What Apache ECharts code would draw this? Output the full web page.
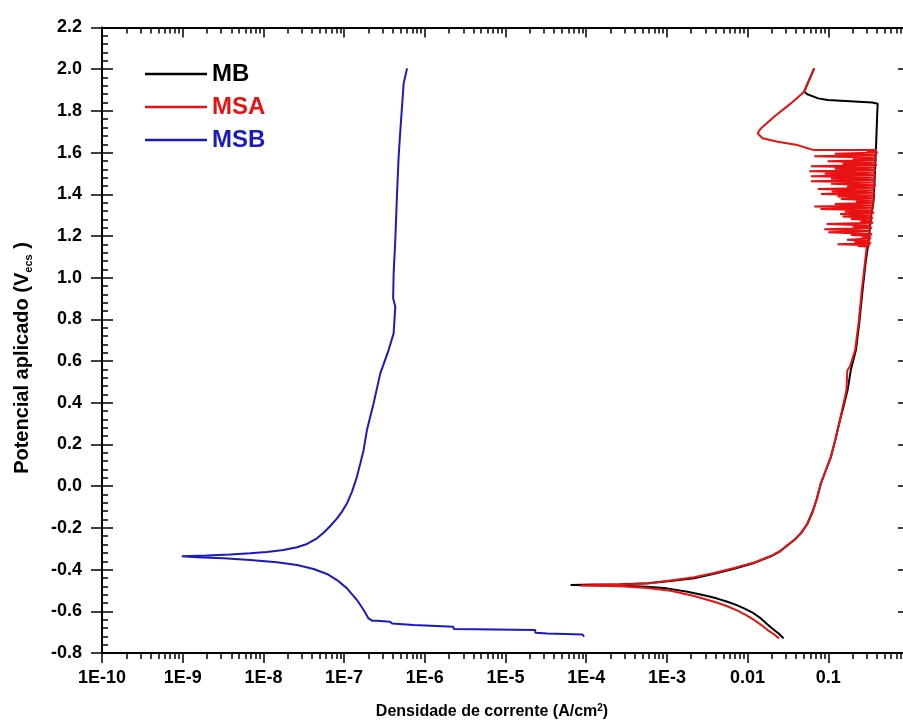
<!DOCTYPE html>
<html><head><meta charset="utf-8">
<script src="https://cdn.jsdelivr.net/npm/echarts@6/dist/echarts.min.js"></script>
<style>html,body{margin:0;padding:0;background:#fff;overflow:hidden}#c{width:910px;height:722px}</style>
</head><body><div id="c"></div>
<script>
// ---- data ----
const seriesNames = ['MB', 'MSA', 'MSB'];
const seriesColors = ['#000000', '#e81212', '#1a1ac4'];

const xTickValues = [1e-10, 1e-9, 1e-8, 1e-7, 1e-6, 1e-5, 1e-4, 1e-3, 0.01, 0.1];
const xTickLabels = ['1E-10','1E-9','1E-8','1E-7','1E-6','1E-5','1E-4','1E-3','0.01','0.1'];
const xMinorMultipliers = [2,3,4,5,6,7,8,9];
const xDecades = [-10,-9,-8,-7,-6,-5,-4,-3,-2,-1];

// MB: [current density (A/cm2), potential (V)]
const mbData = [
 [0.0279,-0.730],[0.0245,-0.708],[0.0213,-0.690],[0.0178,-0.664],[0.0146,-0.634],[0.0115,-0.606],[0.00905,-0.586],
 [0.0072,-0.569],[0.00562,-0.554],[0.0042,-0.539],[0.00318,-0.527],[0.0018,-0.506],[0.0010,-0.490],
 [5.73e-4,-0.482],[2.67e-4,-0.477],[1.25e-4,-0.475],[6.4e-5,-0.474],
 [1.25e-4,-0.472],[2.67e-4,-0.470],[5.73e-4,-0.466],[0.00111,-0.455],[0.00217,-0.441],[0.00385,-0.420],
 [0.0068,-0.396],[0.0121,-0.368],[0.0194,-0.336],[0.0253,-0.312],[0.0313,-0.283],[0.0385,-0.256],[0.0457,-0.226],
 [0.055,-0.180],[0.064,-0.120],[0.072,-0.060],[0.081,0.014],[0.094,0.080],[0.1077,0.141],[0.122,0.222],
 [0.1365,0.302],[0.155,0.385],[0.1735,0.461],[0.19,0.557],[0.22,0.653],[0.2416,0.781],
 [0.266,0.941],[0.293,1.085],[0.31,1.15],[0.34,1.30],[0.365,1.373],[0.389,1.612],[0.405,1.80],
 [0.41,1.834],[0.35,1.840],[0.098,1.852],[0.075,1.86],[0.055,1.88],[0.0502,1.892],[0.0668,2.004]
];

// MSA: [current density (A/cm2), potential (V)]
const msaData = [
 [0.0246,-0.730],[0.0212,-0.710],[0.0177,-0.690],[0.0148,-0.666],[0.0121,-0.642],[0.0096,-0.618],[0.0075,-0.597],
 [0.0057,-0.577],[0.00423,-0.559],[0.0030,-0.542],[0.00217,-0.527],[0.00111,-0.501],[5.73e-4,-0.488],
 [2.67e-4,-0.480],[1.5e-4,-0.478],[8.5e-5,-0.476],
 [1.5e-4,-0.474],[2.67e-4,-0.472],[5.73e-4,-0.467],[0.00111,-0.452],[0.00217,-0.437],[0.00385,-0.416],
 [0.0068,-0.392],[0.0121,-0.366],[0.0194,-0.335],[0.0253,-0.311],[0.0313,-0.282],[0.0385,-0.255],[0.0457,-0.226],
 [0.055,-0.182],[0.064,-0.125],[0.072,-0.062],[0.081,0.014],[0.094,0.080],[0.1077,0.141],[0.122,0.222],
 [0.1365,0.302],[0.152,0.385],[0.168,0.461],[0.172,0.555],[0.186,0.575],[0.215,0.653],
 [0.237,0.781],[0.26,0.941],[0.287,1.085],[0.30,1.15],
 [0.231,1.152],[0.33,1.156],[0.13,1.160],[0.34,1.165],[0.21,1.170],[0.33,1.176],[0.17,1.182],[0.34,1.188],
 [0.26,1.195],[0.34,1.200],[0.19,1.205],[0.35,1.210],[0.10,1.218],[0.33,1.224],[0.089,1.232],[0.35,1.238],
 [0.20,1.245],[0.34,1.250],[0.095,1.258],[0.36,1.264],[0.25,1.270],[0.35,1.276],[0.19,1.282],[0.36,1.288],
 [0.15,1.294],[0.35,1.300],[0.14,1.306],[0.37,1.312],[0.16,1.318],[0.36,1.324],[0.08,1.330],[0.37,1.336],
 [0.067,1.342],[0.36,1.348],[0.12,1.354],[0.37,1.360],[0.22,1.366],[0.37,1.372],[0.143,1.378],[0.38,1.384],
 [0.13,1.390],[0.37,1.396],[0.081,1.402],[0.38,1.408],[0.11,1.414],[0.37,1.420],[0.074,1.426],[0.38,1.432],
 [0.17,1.438],[0.39,1.444],[0.108,1.450],[0.38,1.456],[0.0608,1.462],[0.39,1.468],[0.108,1.474],[0.38,1.480],
 [0.0608,1.486],[0.39,1.492],[0.09,1.498],[0.38,1.504],[0.058,1.510],[0.39,1.516],[0.12,1.522],[0.38,1.528],
 [0.0608,1.534],[0.40,1.540],[0.15,1.546],[0.39,1.552],[0.098,1.558],[0.40,1.564],[0.20,1.570],[0.39,1.576],
 [0.067,1.582],[0.40,1.588],[0.12,1.594],[0.41,1.600],[0.30,1.606],[0.40,1.612],
 [0.0668,1.612],[0.0553,1.621],[0.0416,1.636],[0.0235,1.652],[0.0153,1.669],[0.0133,1.693],[0.0146,1.716],
 [0.0213,1.772],[0.0344,1.836],[0.0502,1.892],[0.0668,2.004]
];

// MSB: [current density (A/cm2), potential (V)]
const msbData = [
 [9.4e-5,-0.722],[9.0e-5,-0.711],[3.3e-5,-0.706],[2.35e-5,-0.703],[2.33e-5,-0.690],[2.29e-6,-0.685],
 [2.25e-6,-0.674],[7.28e-7,-0.666],[3.93e-7,-0.658],[3.7e-7,-0.650],[2.56e-7,-0.645],[2.22e-7,-0.645],
 [2.01e-7,-0.634],[1.746e-7,-0.594],[1.445e-7,-0.546],[1.087e-7,-0.490],[8.17e-8,-0.450],[6.14e-8,-0.421],
 [4.19e-8,-0.397],[2.61e-8,-0.378],[1.47e-8,-0.365],[6.85e-9,-0.354],[3.2e-9,-0.346],[1.5e-9,-0.341],
 [9.75e-10,-0.336],
 [1.99e-9,-0.332],[3.87e-9,-0.327],[6.85e-9,-0.322],[1.10e-8,-0.316],[1.77e-8,-0.306],[2.61e-8,-0.293],
 [3.47e-8,-0.277],[4.61e-8,-0.250],[5.57e-8,-0.223],[6.75e-8,-0.191],[8.17e-8,-0.154],[9.42e-8,-0.122],
 [1.087e-7,-0.082],[1.253e-7,-0.026],[1.445e-7,0.046],[1.59e-7,0.110],[1.746e-7,0.174],[1.92e-7,0.270],
 [2.32e-7,0.398],[2.81e-7,0.541],[3.56e-7,0.653],[4.11e-7,0.733],[4.31e-7,0.861],[4.05e-7,0.901],
 [4.11e-7,1.021],[4.31e-7,1.181],[4.53e-7,1.405],[4.74e-7,1.580],[4.98e-7,1.708],[5.22e-7,1.820],
 [5.47e-7,1.932],[6.03e-7,2.004]
];

const yMin = -0.8, yMax = 2.2, yInterval = 0.2;
const xMin = 1e-10, xMax = 1;

// ---- chart ----
const FONT = '"Liberation Sans", Arial, Helvetica, sans-serif';
const minorTickValues = [];
xDecades.forEach(d => xMinorMultipliers.forEach(m => minorTickValues.push(m * Math.pow(10, d))));

const chart = echarts.init(document.getElementById('c'), null, {renderer: 'canvas'});
const axisLine = {show: true, onZero: false, lineStyle: {color: '#000', width: 2}};
const noLine = {show: false, onZero: false};
const tickStyle = {color: '#000', width: 1.5};

function xLabel(v) {
  const e = Math.round(Math.log10(v));
  return xTickLabels[e + 10] ?? '';
}

const baseX = {type: 'log', logBase: 10, min: xMin, max: xMax, gridIndex: 0,
  splitLine: {show: false}, minorSplitLine: {show: false}};
const baseY = {type: 'value', min: yMin, max: yMax, interval: yInterval, gridIndex: 0,
  splitLine: {show: false}, minorSplitLine: {show: false}};

const option = {
  animation: false,
  backgroundColor: '#fff',
  grid: {left: 102, top: 27.5, right: 1, bottom: 69, containLabel: false},
  xAxis: [
    Object.assign({}, baseX, {position: 'bottom', axisLine,
      axisTick: {show: true, inside: false, length: 10, lineStyle: tickStyle, customValues: xTickValues},
      axisLabel: {show: true, margin: 16, color: '#000', fontFamily: FONT, fontWeight: 'bold', fontSize: 18,
        formatter: xLabel, customValues: xTickValues}}),
    Object.assign({}, baseX, {position: 'bottom', axisLine: noLine,
      axisTick: {show: true, inside: false, length: 6, lineStyle: tickStyle, customValues: minorTickValues},
      axisLabel: {show: false}}),
    Object.assign({}, baseX, {position: 'top', axisLine,
      axisTick: {show: true, inside: true, length: 10, lineStyle: tickStyle, customValues: xTickValues},
      axisLabel: {show: false}}),
    Object.assign({}, baseX, {position: 'top', axisLine: noLine,
      axisTick: {show: true, inside: true, length: 6, lineStyle: tickStyle, customValues: minorTickValues},
      axisLabel: {show: false}})
  ],
  yAxis: [
    Object.assign({}, baseY, {position: 'left', axisLine,
      axisTick: {show: true, inside: false, length: 11, lineStyle: tickStyle},
      minorTick: {show: false},
      axisLabel: {show: true, margin: 20, color: '#000', fontFamily: FONT, fontWeight: 'bold', fontSize: 18,
        formatter: v => (Math.abs(v) < 1e-9 ? 0 : v).toFixed(1)}}),
    Object.assign({}, baseY, {position: 'left', axisLine: noLine,
      axisTick: {show: true, inside: true, length: 11, lineStyle: tickStyle},
      minorTick: {show: true, splitNumber: 5, length: 6, lineStyle: tickStyle},
      axisLabel: {show: false}}),
    Object.assign({}, baseY, {position: 'right', axisLine,
      axisTick: {show: true, inside: true, length: 11, lineStyle: tickStyle},
      minorTick: {show: true, splitNumber: 5, length: 6, lineStyle: tickStyle},
      axisLabel: {show: false}})
  ],
  legend: {
    show: true, orient: 'vertical', left: 140, top: 57,
    icon: 'rect', itemWidth: 62, itemHeight: 2.5, itemGap: 9,
    textStyle: {fontFamily: FONT, fontWeight: 'bold', fontSize: 24, lineHeight: 24},
    data: seriesNames.map((n, i) => ({name: n, textStyle: {color: seriesColors[i]}}))
  },
  series: [
    {name: seriesNames[0], data: mbData, color: seriesColors[0], lineStyle: {width: 2}},
    {name: seriesNames[1], data: msaData, color: seriesColors[1], lineStyle: {width: 2}},
    {name: seriesNames[2], data: msbData, color: seriesColors[2], lineStyle: {width: 2}}
  ].map(s => Object.assign({type: 'line', xAxisIndex: 0, yAxisIndex: 0, symbol: 'none', showSymbol: false,
      smooth: false, emphasis: {disabled: true}}, s)),
  graphic: [
    {type: 'text', x: 492, y: 712, style: {
      text: '{m|Densidade de corrente (A/cm}{s|2}{m|)}', align: 'center', verticalAlign: 'middle',
      rich: {m: {fontFamily: FONT, fontWeight: 'bold', fontSize: 16, lineHeight: 18, fill: '#000'},
             s: {fontFamily: FONT, fontWeight: 'bold', fontSize: 10, lineHeight: 10, verticalAlign: 'top', fill: '#000'}}}},
    {type: 'text', x: 22, y: 358, rotation: Math.PI / 2, style: {
      text: '{m|Potencial aplicado (V}{s|ecs}{m| )}', align: 'center', verticalAlign: 'middle',
      rich: {m: {fontFamily: FONT, fontWeight: 'bold', fontSize: 20, lineHeight: 24, fill: '#000'},
             s: {fontFamily: FONT, fontWeight: 'bold', fontSize: 11, lineHeight: 11, verticalAlign: 'bottom', fill: '#000'}}}}
  ]
};
chart.setOption(option);
</script>
</body></html>
